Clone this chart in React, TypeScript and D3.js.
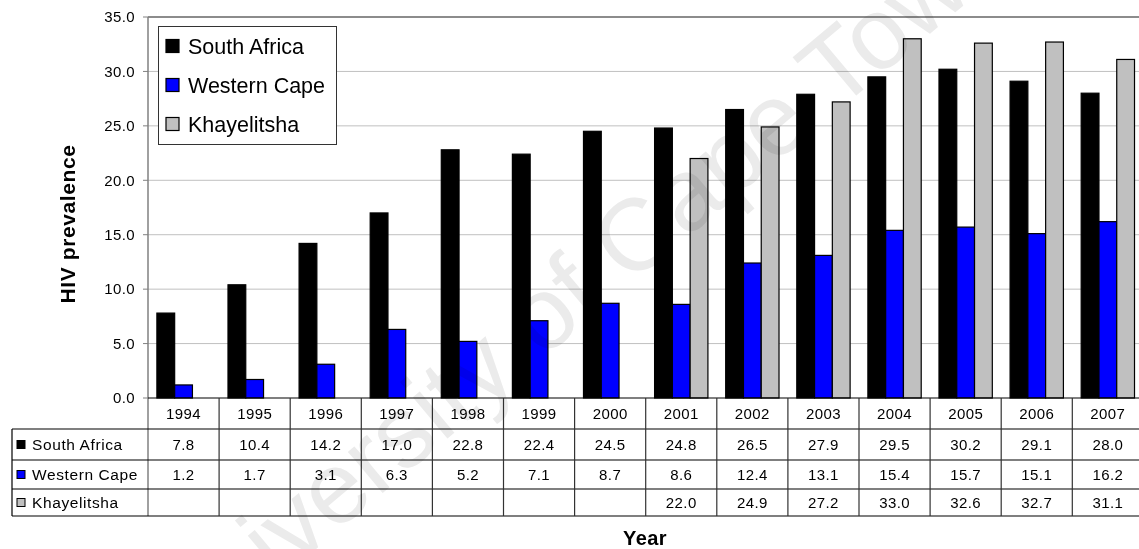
import React from "react";
import * as d3 from "d3";

const years = ["1994","1995","1996","1997","1998","1999","2000","2001","2002","2003","2004","2005","2006","2007"];
const southAfrica = [7.8,10.4,14.2,17.0,22.8,22.4,24.5,24.8,26.5,27.9,29.5,30.2,29.1,28.0];
const westernCape = [1.2,1.7,3.1,6.3,5.2,7.1,8.7,8.6,12.4,13.1,15.4,15.7,15.1,16.2];
const khayelitsha: (number | null)[] = [null,null,null,null,null,null,null,22.0,24.9,27.2,33.0,32.6,32.7,31.1];
const seriesNames = ["South Africa","Western Cape","Khayelitsha"];
const seriesColors = ["#000000","#0000ff","#c0c0c0"];
const yTicks = [0,5,10,15,20,25,30,35];

const W = 1139, H = 549;
const plotL = 148, plotR = 1143.4, plotT = 17, plotB = 398;
const rowYs = [398, 429, 460, 489, 516];
const FONT = "Arial, 'Liberation Sans', Helvetica, sans-serif";

export default function App() {
  const x = d3.scaleBand<string>().domain(years).range([plotL, plotR]).paddingInner(0).paddingOuter(0);
  const xs = d3.scaleBand<string>().domain(seriesNames).range([0, x.bandwidth()]).paddingInner(0).paddingOuter(0.5);
  const y = d3.scaleLinear().domain([0, 35]).range([plotB, plotT]);
  const fmt = d3.format(".1f");
  const data = [southAfrica, westernCape, khayelitsha];

  const bars: React.ReactNode[] = [];
  data.forEach((vals, si) => {
    vals.forEach((v, i) => {
      if (v == null) return;
      const bx = (x(years[i]) as number) + (xs(seriesNames[si]) as number);
      bars.push(
        <rect key={`b${si}-${i}`} x={bx} y={y(v)} width={xs.bandwidth()} height={plotB - y(v)}
          fill={seriesColors[si]} stroke="#000" strokeWidth={1.2} />
      );
    });
  });

  return (
    <svg width={W} height={H} style={{ position: "absolute", left: 0, top: 0, background: "#fff" }} fontFamily={FONT}>
      <rect x={0} y={0} width={W} height={H} fill="#fff" />
      {/* gridlines */}
      {yTicks.filter(t => t > 0 && t < 35).map(t => (
        <line key={`g${t}`} x1={plotL} x2={plotR} y1={y(t)} y2={y(t)} stroke="#c0c0c0" strokeWidth={1} />
      ))}
      <line x1={plotL} x2={plotR} y1={y(35)} y2={y(35)} stroke="#8c8c8c" strokeWidth={2} />
      {bars}
      {/* y axis */}
      <line x1={plotL} x2={plotL} y1={plotT} y2={rowYs[4]} stroke="#808080" strokeWidth={1.5} />
      {yTicks.map(t => (
        <g key={`t${t}`}>
          <line x1={plotL - 5} x2={plotL} y1={y(t)} y2={y(t)} stroke="#808080" strokeWidth={1} />
          <text x={plotL - 13} y={y(t)} dy="0.35em" textAnchor="end" fontSize={15} letterSpacing={0.4} fill="#000">{fmt(t)}</text>
        </g>
      ))}
      <text transform={`translate(75,224) rotate(-90)`} textAnchor="middle" fontSize={21} letterSpacing={0.6} fontWeight="bold" fill="#000">HIV prevalence</text>
      {/* x axis line */}
      <line x1={plotL} x2={plotR} y1={plotB} y2={plotB} stroke="#000" strokeWidth={1.2} />
      {/* data table */}
      {rowYs.slice(1).map((ry, i) => (
        <line key={`h${i}`} x1={12} x2={plotR} y1={ry} y2={ry} stroke="#000" strokeWidth={1.2} />
      ))}
      <line x1={12} x2={12} y1={rowYs[1]} y2={rowYs[4]} stroke="#000" strokeWidth={1.2} />
      {years.map((yr, i) => (
        <line key={`v${i}`} x1={(x(yr) as number) + x.bandwidth()} x2={(x(yr) as number) + x.bandwidth()} y1={plotB} y2={rowYs[4]} stroke="#333" strokeWidth={1.2} />
      ))}
      {years.map(yr => (
        <text key={`yl${yr}`} x={(x(yr) as number) + x.bandwidth() / 2} y={(rowYs[0] + rowYs[1]) / 2} dy="0.35em" textAnchor="middle" fontSize={15} letterSpacing={0.4}>{yr}</text>
      ))}
      {data.map((vals, si) => (
        <g key={`row${si}`}>
          <rect x={17} y={(rowYs[si + 1] + rowYs[si + 2]) / 2 - 4} width={8} height={8} fill={seriesColors[si]} stroke="#000" strokeWidth={1} />
          <text x={32} y={(rowYs[si + 1] + rowYs[si + 2]) / 2} dy="0.35em" fontSize={15.5} letterSpacing={0.6}>{seriesNames[si]}</text>
          {vals.map((v, i) => v == null ? null : (
            <text key={`c${si}-${i}`} x={(x(years[i]) as number) + x.bandwidth() / 2} y={(rowYs[si + 1] + rowYs[si + 2]) / 2} dy="0.35em" textAnchor="middle" fontSize={15} letterSpacing={0.4}>{fmt(v)}</text>
          ))}
        </g>
      ))}
      <text x={645} y={545} textAnchor="middle" fontSize={20} letterSpacing={0.4} fontWeight="bold">Year</text>
      {/* legend */}
      <rect x={158.5} y={26.5} width={178} height={118} fill="#fff" stroke="#333" strokeWidth={1} />
      {seriesNames.map((s, i) => (
        <g key={`lg${i}`}>
          <rect x={166} y={46 + i * 39 - 6.5} width={13} height={13} fill={seriesColors[i]} stroke="#000" strokeWidth={1.2} />
          <text x={188} y={46 + i * 39} dy="0.35em" fontSize={21.5}>{s}</text>
        </g>
      ))}
      {/* watermark */}
      <text transform="translate(575,285) rotate(-40)" textAnchor="middle" dy="0.35em" fontSize={102} fill="#ebebeb" style={{ mixBlendMode: "multiply" }}>University of Cape Town</text>
    </svg>
  );
}
